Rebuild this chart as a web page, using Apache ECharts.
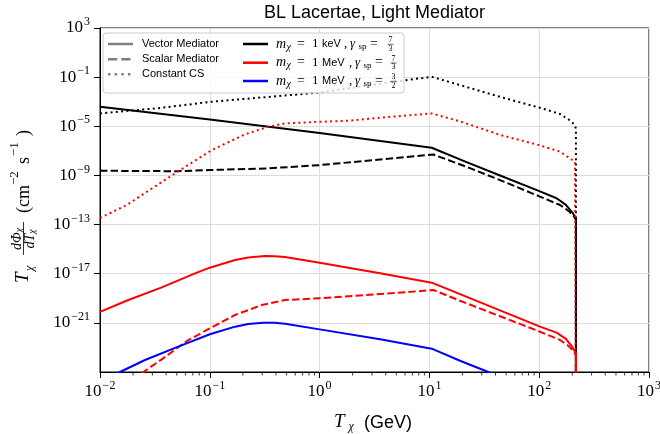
<!DOCTYPE html>
<html><head><meta charset="utf-8">
<script src="https://cdn.jsdelivr.net/npm/echarts@6/dist/echarts.min.js"></script>
<style>html,body{margin:0;padding:0;background:#fff}#c{width:660px;height:434px}</style>
</head><body><div id="c"></div>
<script>
// ---- Data (T_chi in GeV, flux in cm^-2 s^-1) ----
const keVVectorX = [0.01, 0.1, 0.484, 1.0, 10.5, 21.8, 44, 101.6, 144, 175, 200, 216, 216];
const keVVectorY = [3.9e-4, 3.5e-5, 6.3e-6, 2.8e-6, 1.8e-7, 1.2e-8, 9.8e-10, 5e-11, 1.4e-11, 4.0e-12, 1.0e-12, 3.2e-13, 1e-27];

const keVScalarX = [0.01, 0.0516, 0.1, 0.33, 1.0, 3.55, 10.9, 21.8, 44, 101.6, 155, 185, 205, 216, 216];
const keVScalarY = [2.4e-9, 2.2e-9, 2.75e-9, 3.7e-9, 6.9e-9, 2.0e-8, 5.0e-8, 5.0e-9, 4.2e-10, 1.9e-11, 3.9e-12, 1.3e-12, 5.0e-13, 2.6e-13, 1e-27];

const keVConstX = [0.01, 0.0365, 0.104, 0.484, 1.0, 5.0, 10.5, 19, 44, 101.6, 155, 197, 212, 216, 216];
const keVConstY = [1.1e-4, 3.2e-4, 1.0e-3, 3.2e-3, 5.6e-3, 4.5e-2, 0.107, 0.0224, 2.5e-3, 3.2e-4, 1e-4, 2.5e-5, 1.1e-5, 6.3e-6, 1e-27];

const MeVVectorX = [0.01, 0.0181, 0.0365, 0.0733, 0.1, 0.17, 0.224, 0.318, 0.39, 0.484, 1.0, 3.55, 10.5, 19, 101.6, 144, 175, 200, 216, 216];
const MeVVectorY = [7.9e-21, 7.2e-20, 7.8e-19, 1.07e-17, 3.1e-17, 1.3e-16, 2.1e-16, 2.8e-16, 2.7e-16, 2.3e-16, 7.9e-17, 1.07e-17, 1.86e-18, 2.2e-19, 4.9e-22, 1.6e-22, 5.0e-23, 1.1e-23, 3.3e-24, 1e-27];

const MeVScalarX = [0.02, 0.0248, 0.0365, 0.0637, 0.1, 0.17, 0.297, 0.484, 1.0, 3.55, 10.9, 19, 101.6, 155, 185, 205, 216, 216];
const MeVScalarY = [2.5e-26, 1e-25, 1.07e-24, 4e-23, 3.5e-22, 4.4e-21, 2.8e-20, 7.2e-20, 1e-19, 2.2e-19, 4.7e-19, 6.3e-20, 1.9e-22, 4e-23, 1.3e-23, 5.0e-24, 2.4e-24, 1e-27];

const MeVConstX = [0.01, 0.0175, 0.0516, 0.104, 0.209, 0.341, 0.484, 1.0, 1.77, 4.4, 10.5, 19, 44, 101.6, 155, 197, 212, 216, 216];
const MeVConstY = [3.4e-13, 3.9e-12, 2.2e-9, 1.15e-7, 2.2e-6, 9.1e-6, 1.7e-5, 2.3e-5, 2.8e-5, 5.9e-5, 1.1e-4, 2.5e-5, 2.0e-6, 2.8e-7, 8.5e-8, 2.0e-8, 1.2e-8, 9.5e-9, 1e-27];

const MeV32VectorX = [0.0125, 0.0152, 0.0257, 0.0516, 0.1, 0.17, 0.224, 0.307, 0.39, 0.484, 1.0, 3.55, 10.5, 19, 34.4, 40];
const MeV32VectorY = [4.3e-26, 1e-25, 9.5e-25, 1.15e-23, 1.17e-22, 4.9e-22, 8.0e-22, 1.02e-21, 1.0e-21, 8.3e-22, 2.95e-22, 4.6e-23, 7.9e-24, 8.3e-25, 1e-25, 5e-26];

const xTickMin = 1e-2, xTickMax = 1e3;
const yTickMin = 1e-25, yTickMax = 1e3;
const yTickStepDecades = 4;
const xMinorMantissas = [2, 3, 4, 5, 6, 7, 8, 9];

const titleText = 'BL Lacertae, Light Mediator';
const legendStyleNames = ['Vector Mediator', 'Scalar Mediator', 'Constant CS'];
const legendMass = ['keV', 'MeV', 'MeV'];
const legendGamma = [['7', '3'], ['7', '3'], ['3', '2']];
const legendColors = ['#000000', '#ff0000', '#0000ff'];

// ---- helpers ----
const LW = 2;
const DASH = [7.4, 3.2];
const DOT = [2, 3.3];
function pairs(xs, ys) { return xs.map((x, i) => [x, ys[i]]); }
function mkSeries(name, xs, ys, color, type) {
  return {
    name, type: 'line', data: pairs(xs, ys), showSymbol: false, symbol: 'none',
    clip: true, animation: false, silent: true, smooth: false,
    lineStyle: { color, width: LW, type: type, cap: 'butt', join: 'round' }
  };
}
function pow10Label(v) {
  const e = Math.round(Math.log10(v));
  return '{b|10}{s|' + (e < 0 ? '\u2212' : '') + Math.abs(e) + '}';
}
const tickRich = {
  b: { fontFamily: 'Liberation Serif', fontSize: 17, color: '#000', lineHeight: 24 },
  s: { fontFamily: 'Liberation Serif', fontSize: 12, color: '#000', verticalAlign: 'top', padding: [0, 0, 0, 1] }
};
const MI = s => `italic ${s}px "Liberation Serif"`;
const RM = s => `${s}px "Liberation Serif"`;
const SF = s => `${s}px "Liberation Sans"`;
function T(text, x, y, font, align, extra) {
  return Object.assign({
    type: 'text', x, y, z: 100, silent: true,
    style: { text, font, fill: '#000', textAlign: align || 'left', textVerticalAlign: 'middle' }
  }, extra || {});
}
function L(x1, y1, x2, y2, color, w, dash) {
  const st = { stroke: color, lineWidth: w, lineCap: 'butt' };
  if (dash) st.lineDash = dash;
  return { type: 'line', z: 100, silent: true, shape: { x1, y1, x2, y2 }, style: st };
}

// minor tick positions (2..9 x 10^k) for the log x axis
const xMinorTicks = [];
for (let k = Math.round(Math.log10(xTickMin)); k < Math.round(Math.log10(xTickMax)); k++) {
  xMinorMantissas.forEach(m => xMinorTicks.push([m * Math.pow(10, k)]));
}

// ---- legend graphic ----
const g = [];
g.push({ type: 'rect', z: 99, silent: true, shape: { x: 103, y: 33, width: 301, height: 60, r: 3 },
  style: { fill: 'rgba(255,255,255,0.8)', stroke: '#cccccc', lineWidth: 1 } });
const leftRowsY = [44, 59.3, 74.3];
const dashes = [null, DASH.map(d => d * 1.25), DOT.map(d => d * 1.25)];
legendStyleNames.forEach((nm, i) => {
  g.push(L(108, leftRowsY[i], 133, leftRowsY[i], '#808080', 2.5, dashes[i]));
  g.push(T(nm, 142, leftRowsY[i], SF(11)));
});
const rightRowsY = [44, 62.7, 81];
legendMass.forEach((ms, i) => {
  const c = rightRowsY[i], o = (ms === 'keV') ? 0 : 5;
  g.push(L(243, c, 268, c, legendColors[i], 2.5));
  g.push(T('m', 276, c, MI(14)));
  g.push(T('\u03c7', 286.5, c + 3, MI(10)));
  g.push(T('=', 297, c, RM(14)));
  g.push(T('1', 312, c, RM(13)));
  g.push(T(ms, 322, c, SF(11)));
  g.push(T(',', 344 + o, c, RM(13)));
  g.push(T('\u03b3', 350 + o, c, MI(13)));
  g.push(T('sp', 358.5 + o, c + 3, RM(9)));
  g.push(T('=', 370 + o, c, RM(14)));
  const fx = 390.5 + (o ? 3 : 0);
  g.push(T(legendGamma[i][0], fx, c - 3.8, RM(8), 'center'));
  g.push(L(fx - 3, c + 0.3, fx + 3, c + 0.3, '#000', 0.6));
  g.push(T(legendGamma[i][1], fx, c + 4.5, RM(8), 'center'));
});

g.push(T(titleText, 374.5, 13, SF(18), 'center'));
g.push(T('T', 334, 422, MI(19)));
g.push(T('\u03c7', 348.5, 427, MI(12)));
g.push(T('(GeV)', 364, 423, SF(18)));

const fracRich = {
  a: { fontFamily: 'Liberation Serif', fontStyle: 'italic', fontSize: 14, fill: '#000' },
  b: { fontFamily: 'Liberation Serif', fontStyle: 'italic', fontSize: 10, fill: '#000', verticalAlign: 'bottom' }
};
g.push({
  type: 'group', x: 24, y: 283, rotation: Math.PI / 2, z: 100, silent: true,
  children: [
    T('T', 0, -0.6, MI(19)),
    T('\u03c7', 12, 5.5, MI(12)),
    { type: 'text', x: 44, y: -6.5, z: 100, style: { text: '{a|d\u03a6}{b|\u03c7}', rich: fracRich, textAlign: 'center', textVerticalAlign: 'middle' } },
    L(28, -0.5, 61, -0.5, '#000', 0.8),
    { type: 'text', x: 44, y: 6, z: 100, style: { text: '{a|dT}{b|\u03c7}', rich: fracRich, textAlign: 'center', textVerticalAlign: 'middle' } },
    T('(cm', 70, 0, RM(18)),
    T('\u22122', 98, -9, RM(13)),
    T('s', 119, 0, RM(18)),
    T('\u22121', 127, -9, RM(13)),
    T(')', 147, 0, RM(18))
  ]
});

const chart = echarts.init(document.getElementById('c'), null, { renderer: 'canvas' });
chart.setOption({
  animation: false,
  backgroundColor: '#ffffff',
  grid: { left: 100, right: 11, top: 28, bottom: 62, show: true, borderColor: '#000', borderWidth: 1, backgroundColor: 'transparent', outerBoundsMode: 'none' },
  xAxis: {
    type: 'log', logBase: 10, min: xTickMin, max: xTickMax,
    axisLine: { show: true, onZero: false, lineStyle: { color: '#000', width: 1 } },
    axisTick: { show: true, inside: false, length: 6, lineStyle: { color: '#000', width: 1 } },
    minorTick: { show: false },
    splitLine: { show: true, lineStyle: { color: '#dcdcdc', width: 1 } },
    axisLabel: { formatter: pow10Label, rich: tickRich, margin: 8, color: '#000' }
  },
  yAxis: {
    type: 'log', logBase: 10, min: yTickMin, max: yTickMax, interval: yTickStepDecades,
    axisLine: { show: true, onZero: false, lineStyle: { color: '#000', width: 1 } },
    axisTick: { show: true, inside: false, length: 6, lineStyle: { color: '#000', width: 1 } },
    splitLine: { show: true, lineStyle: { color: '#dcdcdc', width: 1 } },
    axisLabel: { formatter: pow10Label, rich: tickRich, margin: 10, color: '#000' }
  },
  series: [
    mkSeries('keV vector', keVVectorX, keVVectorY, '#000000', 'solid'),
    mkSeries('keV scalar', keVScalarX, keVScalarY, '#000000', DASH),
    mkSeries('keV const', keVConstX, keVConstY, '#000000', DOT),
    mkSeries('MeV vector', MeVVectorX, MeVVectorY, '#ff0000', 'solid'),
    mkSeries('MeV scalar', MeVScalarX, MeVScalarY, '#ff0000', DASH),
    mkSeries('MeV const', MeVConstX, MeVConstY, '#ff0000', DOT),
    mkSeries('MeV 3/2 vector', MeV32VectorX, MeV32VectorY, '#0000ff', 'solid'),
    {
      name: 'x minor ticks', type: 'custom', data: xMinorTicks, clip: false, silent: true, z: 5,
      encode: { x: 0 },
      renderItem: function (params, api) {
        const p = api.coord([api.value(0), yTickMin]);
        return { type: 'line', shape: { x1: p[0], y1: p[1], x2: p[0], y2: p[1] + 3.5 }, style: { stroke: '#000', lineWidth: 0.8 } };
      }
    }
  ],
  graphic: g
});
</script></body></html>
